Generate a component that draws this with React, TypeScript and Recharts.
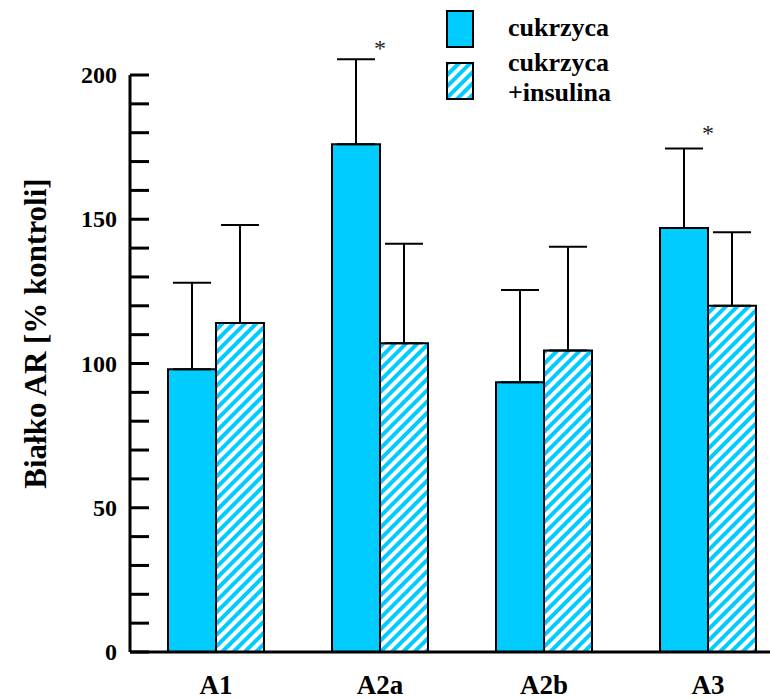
import React from 'react';
import { ComposedChart, Bar, ErrorBar, XAxis, YAxis, ReferenceDot, Label } from 'recharts';

const categories = ['A1', 'A2a', 'A2b', 'A3'];
const cukrzyca = [98, 176, 93.5, 147];
const cukrzycaErr = [30, 29.5, 32, 27.5];
const insulina = [114, 107, 104.5, 120];
const insulinaErr = [34, 34.5, 36, 25.5];
// where the "*" sits (only significant groups)
const significance: (number | null)[] = [null, 210.5, null, 181];
const yTicks = [0, 10, 20, 30, 40, 50, 60, 70, 80, 90, 100, 110, 120, 130, 140, 150, 160, 170, 180, 190, 200];
const yLabelled = [0, 50, 100, 150, 200];

const BLUE = '#00CCFF';
const FONT = 'Liberation Serif, Tinos, DejaVu Serif, Times New Roman, Times, serif';
const TICK_MARGIN = 13;

const data = categories.map((name, i) => ({
  name,
  cukrzyca: cukrzyca[i],
  errC: [0, cukrzycaErr[i]],
  insulina: insulina[i],
  errI: [0, insulinaErr[i]],
}));

function YTick(props: any) {
  const { x, y, payload } = props;
  const axisX = x + TICK_MARGIN;
  return (
    <g>
      <line x1={axisX} x2={axisX + 19} y1={y} y2={y} stroke="#000" strokeWidth={3} />
      {yLabelled.includes(payload.value) && (
        <text x={x} y={y} textAnchor="end" dominantBaseline="central" fontFamily={FONT} fontWeight="bold" fontSize={24} fill="#000">
          {payload.value}
        </text>
      )}
    </g>
  );
}

function YTitle(props: any) {
  const { viewBox } = props;
  const cx = viewBox.x + 35;
  const cy = viewBox.y + viewBox.height / 2 - 30;
  return (
    <text x={cx} y={cy} transform={`rotate(-90 ${cx} ${cy})`} textAnchor="middle" dominantBaseline="central" fontFamily={FONT} fontWeight="bold" fontSize={31} fill="#000">
      Białko AR [% kontroli]
    </text>
  );
}

function Asterisk(props: any) {
  const { cx, cy } = props;
  return (
    <text x={cx} y={cy + 11} textAnchor="middle" fontFamily={FONT} fontSize={24} fill="#222">
      *
    </text>
  );
}

function Swatch({ hatched }: { hatched?: boolean }) {
  return (
    <svg width={28} height={38} style={{ display: 'block' }}>
      <defs>
        <pattern id="hatchLegend" width="8" height="8" patternUnits="userSpaceOnUse" patternTransform="rotate(45)">
          <rect width="8" height="8" fill="#fff" />
          <rect width="4" height="8" fill={BLUE} />
        </pattern>
      </defs>
      <rect x={1} y={1} width={26} height={36} fill={hatched ? 'url(#hatchLegend)' : BLUE} stroke="#000" strokeWidth={2} />
    </svg>
  );
}

const legendText: React.CSSProperties = {
  position: 'absolute',
  left: 508,
  fontFamily: FONT,
  fontWeight: 'bold',
  fontSize: 26,
  lineHeight: '26px',
  color: '#000',
  whiteSpace: 'nowrap',
};

export default function App() {
  return (
    <div style={{ position: 'absolute', left: 0, top: 0, width: 770, height: 699, background: '#fff' }}>
      <svg width={0} height={0} style={{ position: 'absolute' }}>
        <defs>
          <pattern id="hatch" width="8" height="8" patternUnits="userSpaceOnUse" patternTransform="rotate(45)">
            <rect width="8" height="8" fill="#fff" />
            <rect width="4" height="8" fill={BLUE} />
          </pattern>
        </defs>
      </svg>
      <ComposedChart width={770} height={699} data={data} margin={{ top: 75, right: 0, bottom: 0, left: 0 }} barGap={0}>
        <XAxis
          dataKey="name"
          height={47}
          padding={{ left: 4, right: -20 }}
          tickLine={false}
          tickSize={0}
          tickMargin={23}
          interval={0}
          axisLine={{ stroke: '#000', strokeWidth: 3 }}
          tick={{ fontFamily: FONT, fontWeight: 'bold', fontSize: 27, fill: '#000' }}
        />
        <YAxis
          width={130}
          domain={[0, 200]}
          allowDataOverflow
          ticks={yTicks}
          interval={0}
          tickLine={false}
          tickSize={0}
          tickMargin={TICK_MARGIN}
          axisLine={{ stroke: '#000', strokeWidth: 3 }}
          tick={<YTick />}
        >
          <Label content={<YTitle />} />
        </YAxis>
        <Bar dataKey="cukrzyca" barSize={48} fill={BLUE} stroke="#000" strokeWidth={2} isAnimationActive={false}>
          <ErrorBar dataKey="errC" direction="y" width={19} stroke="#000" strokeWidth={2} isAnimationActive={false} />
        </Bar>
        <Bar dataKey="insulina" barSize={48} fill="url(#hatch)" stroke="#000" strokeWidth={2} isAnimationActive={false}>
          <ErrorBar dataKey="errI" direction="y" width={19} stroke="#000" strokeWidth={2} isAnimationActive={false} />
        </Bar>
        {categories.map((c, i) =>
          significance[i] != null ? (
            <ReferenceDot key={c} x={c} y={significance[i] as number} r={0} ifOverflow="visible" shape={<Asterisk />} />
          ) : null
        )}
      </ComposedChart>
      <div style={{ position: 'absolute', left: 446, top: 10 }}>
        <Swatch />
      </div>
      <div style={{ position: 'absolute', left: 446, top: 62 }}>
        <Swatch hatched />
      </div>
      <div style={{ ...legendText, top: 15 }}>cukrzyca</div>
      <div style={{ ...legendText, top: 50 }}>cukrzyca</div>
      <div style={{ ...legendText, top: 80 }}>+insulina</div>
    </div>
  );
}
